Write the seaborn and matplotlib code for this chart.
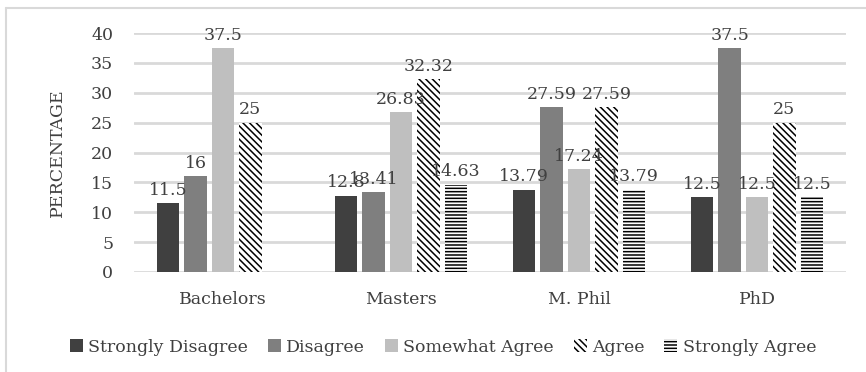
import numpy as np
import pandas as pd
import matplotlib
matplotlib.use("Agg")
import matplotlib.pyplot as plt
from matplotlib.patches import Patch
from matplotlib.lines import Line2D
import seaborn as sns

categories = ["Bachelors", "Masters", "M. Phil", "PhD"]
series = ["Strongly Disagree", "Disagree", "Somewhat Agree", "Agree", "Strongly Agree"]
strongly_disagree = [11.5, 12.8, 13.79, 12.5]
disagree = [16, 13.41, 27.59, 37.5]
somewhat_agree = [37.5, 26.83, 17.24, 12.5]
agree = [25, 32.32, 27.59, 25]
strongly_agree = [np.nan, 14.63, 13.79, 12.5]
yticks = [0, 5, 10, 15, 20, 25, 30, 35, 40]

values = [strongly_disagree, disagree, somewhat_agree, agree, strongly_agree]
rows = []
for s, vals in zip(series, values):
    for c, v in zip(categories, vals):
        rows.append({"Level": c, "Response": s, "Value": 0.0 if np.isnan(v) else v})
df = pd.DataFrame(rows)

sns.set_theme(style="white")
plt.rcParams["font.family"] = ["DejaVu Serif"]
plt.rcParams["hatch.color"] = "black"
plt.rcParams["hatch.linewidth"] = 1.1

FS = 12.5
TXT = "#404040"
fill = {"Strongly Disagree": "#404040", "Disagree": "#7f7f7f",
        "Somewhat Agree": "#bfbfbf", "Agree": "white", "Strongly Agree": "white"}
hatches = {"Strongly Disagree": None, "Disagree": None, "Somewhat Agree": None,
           "Agree": "\\" * 5, "Strongly Agree": "-" * 5}

fig = plt.figure(figsize=(8.66, 3.72), dpi=100)
ax = fig.add_axes([134 / 866, 1 - 272 / 372, 712 / 866, 239 / 372])

sns.barplot(data=df, x="Level", y="Value", hue="Response", order=categories,
            hue_order=series, palette=fill, width=0.77, gap=0.19,
            linewidth=0, legend=False, ax=ax)

for cont, s, vals in zip(ax.containers, series, values):
    for p in cont.patches:
        if hatches[s]:
            p.set_hatch(hatches[s])
            p.set_edgecolor("black")
        p.set_linewidth(0)
    labels = ["" if np.isnan(v) else f"{v:g}" for v in vals]
    ax.bar_label(cont, labels=labels, padding=3, fontsize=FS, color=TXT)

ax.set_ylim(0, 40)
ax.set_xlim(-0.5, 3.5)
ax.set_yticks(yticks)
ax.set_yticklabels([str(t) for t in yticks], fontsize=FS, color=TXT)
ax.tick_params(axis="y", length=0, pad=15)
ax.tick_params(axis="x", length=0, pad=14, labelsize=FS, labelcolor=TXT)
ax.yaxis.grid(True, color="#d9d9d9", linewidth=2)
ax.set_axisbelow(True)
for sp in ax.spines.values():
    sp.set_visible(False)
ax.set_xlabel("")
ax.set_ylabel("PERCENTAGE", fontsize=FS, color=TXT)
ax.yaxis.set_label_coords((66 - 134) / 712, 0.5)

handles = []
for s in series:
    if hatches[s]:
        handles.append(Patch(facecolor=fill[s], hatch=hatches[s], edgecolor="black", linewidth=0))
    else:
        handles.append(Patch(facecolor=fill[s], linewidth=0))
fig.legend(handles, series, loc="center", bbox_to_anchor=(443 / 866, 1 - 347 / 372), ncol=5,
           frameon=False, fontsize=FS, handlelength=0.75, handleheight=0.75,
           handletextpad=0.3, columnspacing=1.15, labelcolor=TXT)

fig.add_artist(Line2D([6 / 866, 6 / 866], [0, 1 - 8 / 372], transform=fig.transFigure,
                      color="#d9d9d9", linewidth=1.5))
fig.add_artist(Line2D([6 / 866, 1], [1 - 8 / 372, 1 - 8 / 372], transform=fig.transFigure,
                      color="#d9d9d9", linewidth=1.5))

fig.savefig("out.png", dpi=100)
